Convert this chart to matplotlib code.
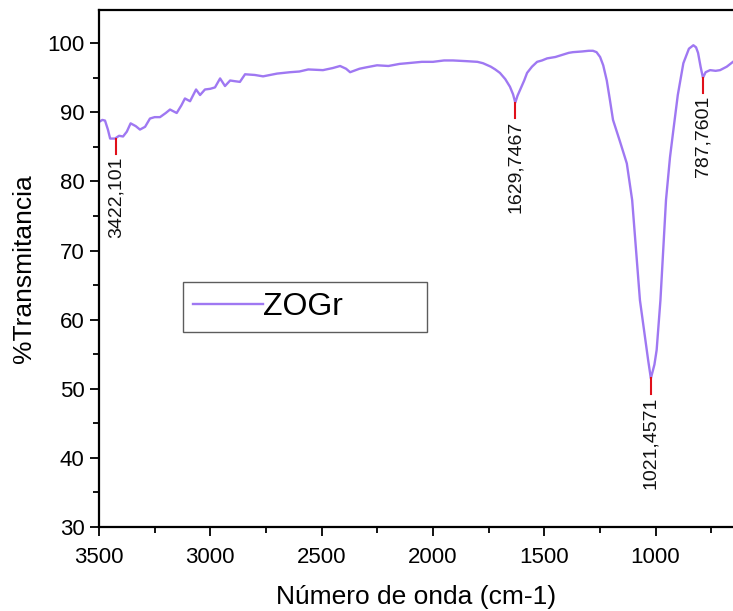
import matplotlib
matplotlib.use("Agg")
import matplotlib.pyplot as plt
from matplotlib.ticker import MultipleLocator

plt.rcParams['font.family'] = ['Liberation Sans', 'DejaVu Sans']

# Spectrum (wavenumber cm-1, %T)
wavenumber = [3500, 3485, 3473, 3460, 3450, 3428, 3410, 3392, 3375, 3358, 3335, 3316,
              3293, 3271, 3250, 3226, 3200, 3181, 3151, 3130, 3114, 3091, 3064, 3046,
              3024, 3000, 2979, 2956, 2934, 2911, 2890, 2867, 2844, 2800, 2763, 2700,
              2642, 2600, 2560, 2494, 2450, 2417, 2390, 2372, 2330, 2300, 2251, 2200,
              2150, 2116, 2050, 2000, 1950, 1910, 1850, 1800, 1775, 1740, 1720, 1699,
              1675, 1654, 1640, 1630, 1620, 1609, 1590, 1577, 1555, 1532, 1510, 1487,
              1450, 1420, 1390, 1371, 1330, 1300, 1281, 1265, 1249, 1235, 1219, 1205,
              1191, 1160, 1129, 1105, 1070, 1033, 1021, 1005, 995, 978, 953, 935,
              920, 900, 875, 850, 830, 818, 809, 797, 787, 775, 755, 730, 710, 680, 652]
transmittance = [88.6, 88.9, 88.8, 87.5, 86.2, 86.2, 86.6, 86.5, 87.2, 88.4, 88.0, 87.5,
                 87.9, 89.1, 89.3, 89.3, 89.9, 90.4, 89.9, 91.0, 92.0, 91.6, 93.3, 92.5,
                 93.3, 93.4, 93.6, 94.9, 93.8, 94.6, 94.5, 94.4, 95.5, 95.4, 95.2, 95.6,
                 95.8, 95.9, 96.2, 96.1, 96.4, 96.7, 96.3, 95.8, 96.3, 96.5, 96.8, 96.7,
                 97.0, 97.1, 97.3, 97.3, 97.5, 97.5, 97.4, 97.3, 97.1, 96.6, 96.2, 95.7,
                 94.8, 93.7, 92.6, 91.4, 92.4, 93.2, 94.6, 95.7, 96.6, 97.3, 97.5, 97.8,
                 98.0, 98.3, 98.6, 98.7, 98.8, 98.9, 98.9, 98.7, 98.0, 96.8, 94.6, 91.8,
                 88.9, 85.8, 82.6, 77.3, 62.8, 54.1, 51.5, 53.5, 55.6, 62.8, 77.3, 83.5,
                 87.4, 92.5, 97.1, 99.2, 99.7, 99.4, 98.6, 96.5, 95.0, 95.8, 96.1, 96.0,
                 96.1, 96.6, 97.3]

# Peak annotations
peak_wn = [3422.101, 1629.7467, 1021.4571, 787.7601]
peak_T = [86.2, 91.4, 51.5, 95.0]
peak_labels = ["3422,101", "1629,7467", "1021,4571", "787,7601"]

series_name = "ZOGr"
line_color = "#9f78f2"

fig = plt.figure(figsize=(7.33, 6.11), dpi=100)
ax = fig.add_axes([99 / 733, 1 - 527 / 611, 1 - 99 / 733, (527 - 10) / 611])

ax.plot(wavenumber, transmittance, color=line_color, lw=1.7, label=series_name)

for w, t, lab in zip(peak_wn, peak_T, peak_labels):
    ax.plot([w, w], [t, t - 2.2], color="#e0101a", lw=1.5)
    ax.annotate(lab, xy=(w, t - 2.2), xytext=(0, -2), textcoords="offset points",
                rotation=90, ha="center", va="top", fontsize=14, color="#111111")

ax.set_xlim(3500, 652)
ax.set_ylim(30, 104.8)
ax.xaxis.set_major_locator(MultipleLocator(500))
ax.xaxis.set_minor_locator(MultipleLocator(250))
ax.yaxis.set_major_locator(MultipleLocator(10))
ax.yaxis.set_minor_locator(MultipleLocator(5))
ax.tick_params(which="both", direction="out", width=1.3, labelsize=16)
ax.tick_params(which="major", length=6.5)
ax.tick_params(which="minor", length=4)
ax.tick_params(axis="x", which="major", pad=8)
ax.tick_params(axis="y", which="major", pad=4)
ax.spines["right"].set_visible(False)
for s in ["left", "bottom", "top"]:
    ax.spines[s].set_linewidth(1.6)

ax.set_xlabel("Número de onda (cm-1)", fontsize=19, labelpad=12)
ax.set_ylabel("%Transmitancia", fontsize=19, labelpad=8)

leg = ax.legend(loc="center left", bbox_to_anchor=(0.1325, 0.375, 0.3845, 0.101),
                mode="expand", fontsize=23, frameon=True, fancybox=False,
                handlelength=2.2, handletextpad=0.0, borderpad=0.3, borderaxespad=0)
leg.get_frame().set_edgecolor("#333333")
leg.get_frame().set_linewidth(1.0)

fig.savefig("out.png", dpi=100)
